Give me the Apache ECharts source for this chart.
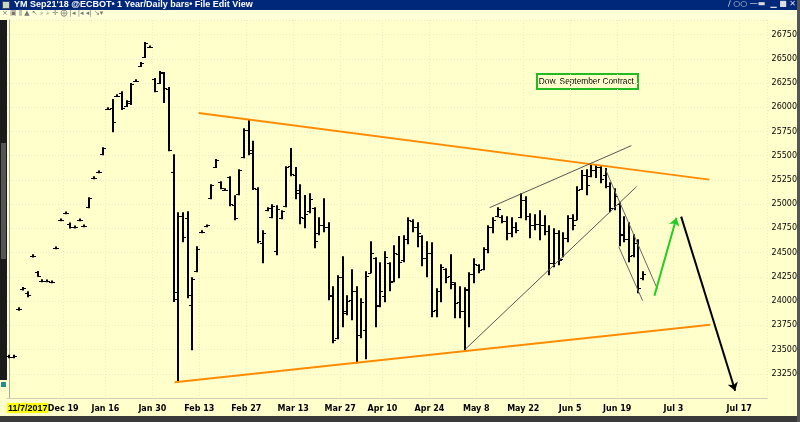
<!DOCTYPE html>
<html><head><meta charset="utf-8">
<script src="https://cdn.jsdelivr.net/npm/echarts@6/dist/echarts.min.js"></script>
<style>html,body{margin:0;padding:0;background:#FFFFCC}#c{width:800px;height:422px}</style>
</head><body><div id="c"></div>
<script>
// ---- data ----
const categories = ['11/7','11/13','11/28','11/30','12/1','12/4','12/6','12/7','12/8','12/11','12/13','12/18','12/19','12/21','12/22','12/27','12/29','1/3','1/5','1/8','1/11','1/16','1/17','1/18','1/19','1/22','1/23','1/24','1/25','1/26','1/29','1/30','1/31','2/1','2/2','2/5','2/6','2/7','2/8','2/9','2/12','2/13','2/14','2/15','2/16','2/19','2/20','2/21','2/22','2/23','2/26','2/27','2/28','3/1','3/2','3/5','3/6','3/7','3/8','3/9','3/12','3/13','3/14','3/15','3/16','3/19','3/20','3/21','3/22','3/23','3/26','3/27','3/28','3/29','4/2','4/3','4/4','4/5','4/6','4/9','4/10','4/11','4/12','4/13','4/16','4/17','4/18','4/19','4/20','4/23','4/24','4/25','4/26','4/27','4/30','5/1','5/2','5/3','5/4','5/7','5/8','5/9','5/10','5/11','5/14','5/15','5/16','5/17','5/18','5/21','5/22','5/23','5/24','5/25','5/28','5/29','5/30','5/31','6/1','6/4','6/5','6/6','6/7','6/8','6/11','6/12','6/13','6/14','6/15','6/18','6/19','6/20','6/21','6/22','6/25','6/26',
  '6/27','6/28','6/29','6/30','7/1','7/2','7/3','7/4','7/5','7/6','7/7','7/8','7/9','7/10','7/11','7/12','7/13','7/14','7/15','7/16','7/17','7/18','7/19','7/20','7/21','7/22'];
const opens = [23430,23425,23915,24125,24080,24465,24295,24212,24210,24200,24548,24838,24910,24795,24765,24838,24778,24970,25270,25332,25515,25984,25990,26115,26150,26010,26040,26270,26425,26520,26622,26290,26250,26350,26190,25335,24090,24880,24860,23960,24310,24712,24776,25060,25385,25225,25150,25280,24990,25105,25490,25760,25560,25160,24600,24940,24870,24520,24860,24980,25390,25300,25150,24860,24930,24960,24700,24790,24760,24060,23620,24250,23880,24010,24100,23650,23700,24290,24440,23960,24050,24390,24210,24490,24420,24640,24830,24760,24670,24440,24500,23910,24100,24330,24260,24180,23990,23900,24110,24280,24370,24330,24540,24760,24880,24870,24830,24700,24760,24870,25040,24880,24780,24800,24790,24720,24390,24700,24430,24650,24860,24840,25160,25300,25290,25350,25380,25300,25190,24960,25000,24690,24640,24480,24600,24240];
const highs = [23440,23440,23930,24140,24095,24478,24305,24220,24218,24208,24558,24848,24920,24805,24775,24848,24786,25067,25282,25342,25583,25994,26079,26128,26161,26068,26244,26283,26461,26667,26632,26296,26368,26358,26203,25511,24912,24912,24922,24241,24561,24725,24786,25201,25460,25232,25158,25284,25087,25356,25779,25872,25648,25170,24726,24964,24995,24984,24933,25387,25573,25377,25201,25088,25108,24964,24860,25057,24809,24148,24262,24458,24055,24324,24148,24024,24303,24613,24447,24396,24510,24396,24571,24665,24675,24860,24840,24809,24675,24613,24602,24128,24375,24334,24478,24189,24148,24138,24293,24437,24375,24551,24778,24860,24964,24881,24871,24860,24809,25108,25077,24902,24891,24933,24881,24778,24747,24726,24705,24881,24891,25180,25346,25356,25408,25408,25387,25367,25222,25160,25015,24871,24809,24685,24633,24303];
const lows = [23415,23415,23905,24115,24045,24455,24255,24200,24200,24190,24540,24830,24900,24755,24755,24830,24768,24964,25262,25325,25511,25976,25748,26110,25976,26007,26027,26265,26420,26512,26615,26161,26244,26048,25552,23996,23167,24613,24034,23498,24303,24705,24768,25057,25377,25160,25140,24984,24840,25098,25480,25511,25150,24602,24396,24933,24860,24478,24850,24974,25294,25057,24798,24757,24912,24551,24685,24716,24014,23570,23611,23735,23859,23807,23363,23621,23405,24293,23735,23942,23993,24107,24200,24241,24406,24592,24716,24561,24365,24252,23838,23838,23993,24189,24128,23828,23828,23498,23735,24190,24293,24324,24499,24705,24871,24809,24633,24664,24705,24860,24840,24654,24736,24633,24685,24272,24355,24375,24458,24613,24736,24840,25150,25098,25284,25274,25222,25170,24922,24943,24571,24613,24406,24458,24086,24220];
const closes = [23425,23430,23920,24130,24065,24468,24262,24210,24208,24198,24550,24840,24912,24760,24767,24840,24778,25060,25274,25335,25580,25986,25852,26120,25990,26060,26240,26275,26455,26660,26626,26170,26360,26200,25560,24020,24880,24660,24060,24230,24540,24716,24780,25195,25455,25165,25148,25000,24860,25350,25770,25530,25170,24620,24700,24960,24985,24950,24925,25380,25310,25110,24870,24900,25050,24620,24790,24760,24050,23600,24250,23900,24000,24100,23650,23990,24260,24500,23950,24100,24450,24200,24500,24400,24640,24840,24760,24700,24440,24500,23900,24100,24350,24250,24200,23980,23900,24120,24280,24380,24320,24540,24760,24840,24950,24830,24700,24760,24730,25040,24880,24780,24800,24790,24720,24390,24700,24420,24650,24860,24790,25150,25300,25200,25350,25380,25260,25190,24960,25080,24680,24640,24460,24600,24140,24280];
const tickCats = ['12/19','1/16','1/30','2/13','2/27','3/13','3/27','4/10','4/24','5/8','5/22','6/5','6/19','7/3','7/17'];
const tickTexts = ['Dec 19','Jan 16','Jan 30','Feb 13','Feb 27','Mar 13','Mar 27','Apr 10','Apr 24','May 8','May 22','Jun 5','Jun 19','Jul 3','Jul 17'];
const priceTicks = [23250,23500,23750,24000,24250,24500,24750,25000,25250,25500,25750,26000,26250,26500,26750];
// drawn trendlines: [slot position, price]
const upperOrange = [[40.3, 25940], [149.1, 25253]];
const lowerOrange = [[35.2, 23162], [149.3, 23756]];
const wedgeLow = [[97.0, 23498], [133.6, 25181]];
const wedgeHigh = [[102.3, 24964], [132.5, 25604]];
const chanUpper = [[127.0, 25356], [138.0, 24127]];
const chanLower = [[129.8, 24561], [134.9, 24003]];
const greenArrow = [[137.4, 24055], [142.1, 24860]];
const blackArrow = [[143.1, 24871], [154.6, 23074]];

// ---- chart ----
const ohlc = opens.map((o, i) => [i, o, highs[i], lows[i], closes[i]]);
const chart = echarts.init(document.getElementById('c'), null, {renderer: 'canvas'});
const BG = '#FFFFCC';
const tickIdx = tickCats.map(c => categories.indexOf(c));
const isTick = (i) => tickIdx.indexOf(i) >= 0;

function trend(data, color, width) {
  return {type: 'line', xAxisIndex: 1, data: data, symbol: 'none', silent: true, animation: false,
    lineStyle: {color: color, width: width}, z: 3};
}
function arrow(data, color) {
  return {type: 'lines', coordinateSystem: 'cartesian2d', xAxisIndex: 1, silent: true, animation: false,
    symbol: ['none', 'arrow'], symbolSize: 8,
    lineStyle: {color: color, width: 2, opacity: 1, curveness: 0},
    data: [{coords: data}], z: 4};
}

chart.setOption({
  backgroundColor: BG,
  animation: false,
  grid: {left: 7, right: 31, top: 20, bottom: 24, show: true, backgroundColor: BG, borderColor: 'transparent'},
  xAxis: [{
    type: 'category', data: categories, boundaryGap: true,
    axisLine: {show: true, lineStyle: {color: '#CFCFB8', width: 1}},
    axisTick: {show: false},
    axisLabel: {
      interval: (i) => isTick(i),
      formatter: (v) => { const k = tickCats.indexOf(v); return k >= 0 ? tickTexts[k] : ''; },
      color: '#000', fontFamily: 'DejaVu Sans', fontSize: 8, fontWeight: 'bold', margin: 7,
      padding: [0, 5, 0, 0]
    },
    splitLine: {show: true, interval: (i) => isTick(i), lineStyle: {color: '#ECECCB', type: [1, 2], width: 1}}
  }, {
    type: 'value', min: -0.5, max: categories.length - 0.5, show: false
  }],
  yAxis: {
    type: 'value', position: 'right', min: 23000, max: 26900, interval: 250,
    axisLine: {show: true, lineStyle: {color: '#A8A8A0', width: 1}},
    axisTick: {show: false},
    axisLabel: {showMinLabel: false, showMaxLabel: false, color: '#000', fontFamily: 'DejaVu Sans', fontSize: 8, margin: 4,
      formatter: (v) => priceTicks.indexOf(v) >= 0 ? String(v) : ''},
    splitLine: {show: true, lineStyle: {color: '#ECECCB', type: [1, 2], width: 1}}
  },
  series: [
    {
      type: 'custom', data: ohlc, encode: {x: 0, y: [1, 2, 3, 4]}, silent: true, z: 2,
      renderItem: function (params, api) {
        const i = api.value(0);
        const pH = api.coord([i, api.value(2)]);
        const pL = api.coord([i, api.value(3)]);
        const pO = api.coord([i, api.value(1)]);
        const pC = api.coord([i, api.value(4)]);
        const x = Math.round(pH[0]);
        return {type: 'group', children: [
          {type: 'line', shape: {x1: x, y1: pH[1] - 0.5, x2: x, y2: Math.max(pL[1], pH[1] + 1.5) + 0.5}, style: {stroke: '#000', lineWidth: 2}},
          {type: 'line', shape: {x1: x - 3, y1: Math.round(pO[1]) + 0.5, x2: x, y2: Math.round(pO[1]) + 0.5}, style: {stroke: '#000', lineWidth: 1}},
          {type: 'line', shape: {x1: x, y1: Math.round(pC[1]) + 0.5, x2: x + 3, y2: Math.round(pC[1]) + 0.5}, style: {stroke: '#000', lineWidth: 1}}
        ]};
      }
    },
    trend(upperOrange, '#FF8C00', 2),
    trend(lowerOrange, '#FF8C00', 2),
    trend(wedgeLow, '#555555', 1),
    trend(wedgeHigh, '#555555', 1),
    trend(chanUpper, '#666666', 1),
    trend(chanLower, '#666666', 1),
    arrow(greenArrow, '#22CC22'),
    arrow(blackArrow, '#000000')
  ],
  graphic: [
    // title bar
    {type: 'rect', left: 0, top: 0, shape: {width: 800, height: 10}, style: {fill: '#00287A'}, silent: true},
    {type: 'rect', left: 2, top: 1, shape: {width: 7, height: 7}, style: {fill: '#C8D8C8', stroke: '#446'}, silent: true},
    {type: 'text', left: 14, top: 0, style: {text: "YM Sep21'18 @ECBOT\u2022 1 Year/Daily bars\u2022 File Edit View", fill: '#FFFFFF', font: 'bold 9px "Liberation Sans"'}, silent: true},
    {type: 'text', right: 4, top: 0, style: {text: '\u2215 \u25CB\u25CB \u2014\u25AC  \u2581 \u25A0 \u2715', fill: '#DDDDDD', font: '8px "DejaVu Sans"'}, silent: true},
    // toolbar
    {type: 'rect', left: 0, top: 10, shape: {width: 800, height: 10}, style: {fill: '#FFFFD8'}, silent: true},
    {type: 'text', left: 2, top: 10, style: {text: '\u00D7 \u25A3 \u2AFC \u25B2 \u2196 \u2315 \u2315 \u271B \u2A01 |\u25C2 |\u25C2 \u25C2| \u2198\u25BE', fill: '#777', font: '7px "DejaVu Sans"'}, silent: true},
    // left scrollbar
    {type: 'rect', left: 0, top: 20, shape: {width: 7, height: 360}, style: {fill: '#1A1A1A'}, silent: true},
    {type: 'rect', left: 1, top: 143, shape: {width: 5, height: 116}, style: {fill: '#555555'}, silent: true},
    {type: 'rect', left: 1, top: 382, shape: {width: 5, height: 5}, style: {fill: '#2A8A8A'}, silent: true},
    // bottom strip
    {type: 'rect', left: 0, top: 416, shape: {width: 800, height: 6}, style: {fill: '#3A3A3A'}, silent: true},
    {type: 'rect', left: 797, top: 0, shape: {width: 3, height: 422}, style: {fill: '#555555'}, silent: true},
    // date highlight
    {type: 'text', left: 7, top: 403, style: {text: '11/7/2017', fill: '#000', font: 'bold 9px "Liberation Sans"', backgroundColor: '#FFFF00', padding: [1, 1, 0, 1]}, silent: true},
    // note box
    {type: 'group', left: 536, top: 73, children: [
      {type: 'rect', shape: {x: 0, y: 0, width: 101, height: 15}, style: {fill: BG, stroke: '#22BB22', lineWidth: 2}},
      {type: 'text', x: 50.5, y: 8, style: {text: 'Dow. September Contract.', fill: '#000', font: '8.3px "Liberation Sans"', align: 'center', verticalAlign: 'middle'}}
    ], silent: true}
  ]
});
</script></body></html>
